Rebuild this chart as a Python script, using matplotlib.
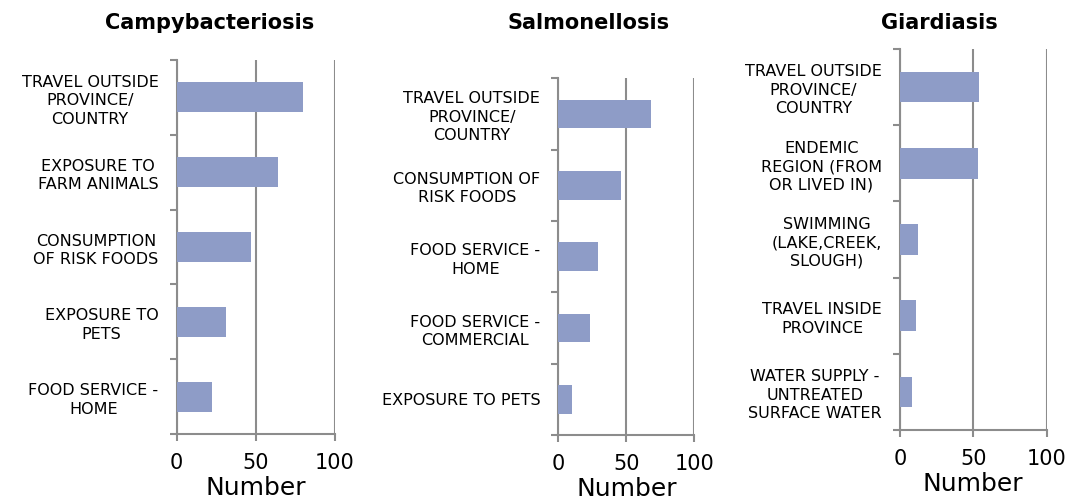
import matplotlib
matplotlib.use("Agg")
import matplotlib.pyplot as plt

# data
campy_labels = ["TRAVEL OUTSIDE\nPROVINCE/\nCOUNTRY", "EXPOSURE TO\nFARM ANIMALS",
                "CONSUMPTION\nOF RISK FOODS", "EXPOSURE TO\nPETS", "FOOD SERVICE -\nHOME"]
campy_values = [80, 64, 47, 31, 22]

salmo_labels = ["TRAVEL OUTSIDE\nPROVINCE/\nCOUNTRY", "CONSUMPTION OF\nRISK FOODS",
                "FOOD SERVICE -\nHOME", "FOOD SERVICE -\nCOMMERCIAL", "EXPOSURE TO PETS"]
salmo_values = [68, 46, 29, 23, 10]

giard_labels = ["TRAVEL OUTSIDE\nPROVINCE/\nCOUNTRY", "ENDEMIC\nREGION (FROM\nOR LIVED IN)",
                "SWIMMING\n(LAKE,CREEK,\nSLOUGH)", "TRAVEL INSIDE\nPROVINCE",
                "WATER SUPPLY -\nUNTREATED\nSURFACE WATER"]
giard_values = [54, 53, 12, 11, 8]

titles = ["Campybacteriosis", "Salmonellosis", "Giardiasis"]

bar_color = "#8e9cc7"
line_color = "#8c8c8c"
font = "DejaVu Sans"

fig = plt.figure(figsize=(10.76, 5.01), dpi=100)

# [left, bottom, width, height] in figure fraction, title x centre
panels = [
    ([0.1642, 0.1337, 0.1471, 0.7465], 0.195, campy_labels, campy_values),
    ([0.5189, 0.1317, 0.1264, 0.7120], 0.547, salmo_labels, salmo_values),
    ([0.8364, 0.1417, 0.1363, 0.7605], 0.873, giard_labels, giard_values),
]

for (rect, tx, labels, values), title in zip(panels, titles):
    ax = fig.add_axes(rect)
    pos = list(range(len(values)))
    ax.barh(pos, values, height=0.4, color=bar_color, zorder=3)
    ax.set_xlim(0, 100)
    ax.set_ylim(len(values) - 0.5, -0.5)
    ax.set_xticks([0, 50, 100])
    ax.set_yticks(pos)
    ax.set_yticklabels(labels, fontsize=11.5, family=font, linespacing=1.3)
    for t in ax.get_yticklabels():
        t.set_multialignment("center")
    ax.set_yticks([p - 0.5 for p in pos] + [len(values) - 0.5], minor=True)
    ax.tick_params(axis="y", which="major", length=0, pad=13)
    ax.tick_params(axis="y", which="minor", length=5, width=1.5, color=line_color, direction="out")
    ax.tick_params(axis="x", length=5, width=1.5, color=line_color, labelsize=15, pad=9)
    for t in ax.get_xticklabels():
        t.set_family(font)
    ax.grid(axis="x", color=line_color, linewidth=1.5, zorder=0)
    for s in ["top", "right"]:
        ax.spines[s].set_visible(False)
    for s in ["left", "bottom"]:
        ax.spines[s].set_color(line_color)
        ax.spines[s].set_linewidth(1.5)
    ax.set_xlabel("Number", fontsize=18, family=font, labelpad=2)
    fig.text(tx, 0.955, title, ha="center", va="center", fontsize=15, fontweight="bold", family=font)

fig.savefig("out.png", dpi=100)
